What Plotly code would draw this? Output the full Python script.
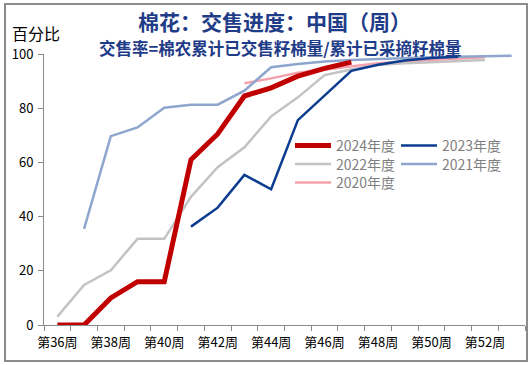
import plotly.graph_objects as go

# ---- data ----
weeks = list(range(36, 54))
tick_weeks = [36, 38, 40, 42, 44, 46, 48, 50, 52]
tick_labels = [f"第{w}周" for w in tick_weeks]

w2024 = [36, 37, 38, 39, 40, 41, 42, 43, 44, 45, 46, 47]
v2024 = [0, 0, 10, 16, 16, 61, 70.5, 84.5, 87.5, 91.8, 94.7, 97]

w2023 = [41, 42, 43, 44, 45, 46, 47, 48, 49, 50, 51]
v2023 = [36.3, 43.3, 55.4, 50.1, 75.6, 84.6, 93.8, 96.0, 97.6, 98.5, 99.0]

w2022 = [36, 37, 38, 39, 40, 41, 42, 43, 44, 45, 46, 47, 48, 49, 50, 51, 52]
v2022 = [3.1, 14.8, 20.2, 31.8, 31.8, 47.3, 58.2, 65.6, 77.0, 84.0, 92.2, 94.3, 95.9, 96.6, 97.0, 97.4, 97.8]

w2021 = [37, 38, 39, 40, 41, 42, 43, 44, 45, 46, 47, 48, 49, 50, 51, 52, 53]
v2021 = [35.5, 69.7, 72.9, 80.2, 81.3, 81.3, 86.5, 95.1, 96.3, 97.2, 97.8, 98.2, 98.5, 98.8, 99.0, 99.3, 99.4]

w2020 = [43, 44, 45, 46, 47, 48, 49, 50, 51, 52]
v2020 = [89.2, 91.0, 93.1, 94.3, 95.6, 96.6, 97.2, 97.8, 98.2, 98.8]

title_text = "棉花：交售进度：中国（周）"
subtitle_text = "交售率=棉农累计已交售籽棉量/累计已采摘籽棉量"
yunit_text = "百分比"

# ---- geometry helpers (pixel -> paper) ----
W, H = 532, 365
L, R, T, B = 44, 7, 54, 40
PW, PH = W - L - R, H - T - B


def px(x):
    return (x - L) / PW


def py(y):
    return (H - B - y) / PH


FONT = "Noto Sans CJK SC"

fig = go.Figure()
fig.add_trace(go.Scatter(x=w2020, y=v2020, mode="lines", name="2020年度",
                         line=dict(color="#F4A3AE", width=2.5), legend="legend5"))
fig.add_trace(go.Scatter(x=w2021, y=v2021, mode="lines", name="2021年度",
                         line=dict(color="#8EA6CD", width=2.5), legend="legend4"))
fig.add_trace(go.Scatter(x=w2022, y=v2022, mode="lines", name="2022年度",
                         line=dict(color="#C3C3C3", width=2.5), legend="legend3"))
fig.add_trace(go.Scatter(x=w2023, y=v2023, mode="lines", name="2023年度",
                         line=dict(color="#0B3C8F", width=2.5), legend="legend2"))
fig.add_trace(go.Scatter(x=w2024, y=v2024, mode="lines", name="2024年度",
                         line=dict(color="#C00000", width=5), legend="legend"))

leg_common = dict(orientation="h", xanchor="left", yanchor="middle",
                  font=dict(family=FONT, size=14, color="#7F7F7F"),
                  bgcolor="rgba(0,0,0,0)", itemwidth=36)
c1, c2 = px(290), px(396)
fig.update_layout(
    legend=dict(x=c1, y=py(146), **leg_common),
    legend2=dict(x=c2, y=py(146), **leg_common),
    legend3=dict(x=c1, y=py(164.5), **leg_common),
    legend4=dict(x=c2, y=py(164.5), **leg_common),
    legend5=dict(x=c1, y=py(183), **leg_common),
)

fig.update_layout(
    width=W, height=H,
    margin=dict(l=L, r=R, t=T, b=B),
    paper_bgcolor="white", plot_bgcolor="white",
    showlegend=True,
    font=dict(family=FONT, color="#000000"),
    xaxis=dict(
        range=[35.5, 53.5], tickmode="array", tickvals=tick_weeks, ticktext=tick_labels,
        ticks="", showgrid=False, zeroline=False, ticklabelstandoff=5,
        showline=True, linecolor="#8A8A8A", linewidth=1,
        tickfont=dict(family=FONT, size=13, color="#000000"),
        minor=dict(tick0=35.5, dtick=1, ticks="outside", ticklen=5,
                   tickcolor="#8A8A8A", tickwidth=1, showgrid=False),
        fixedrange=True,
    ),
    yaxis=dict(
        range=[0, 100], tickmode="array", tickvals=[0, 20, 40, 60, 80, 100],
        ticks="outside", ticklen=5, tickcolor="#8A8A8A", showgrid=False, zeroline=False,
        showline=True, linecolor="#8A8A8A", linewidth=1, ticklabelstandoff=2,
        tickfont=dict(family=FONT, size=13, color="#000000"),
        fixedrange=True,
    ),
)

fig.add_annotation(text=f"<b>{title_text}</b>", x=px(274), y=py(21), xref="paper", yref="paper",
                   showarrow=False, xanchor="center", yanchor="middle", borderpad=0,
                   font=dict(family=FONT, size=21, color="#1F3C88"))
fig.add_annotation(text=f"<b>{subtitle_text}</b>", x=px(280), y=py(47.5), xref="paper", yref="paper",
                   showarrow=False, xanchor="center", yanchor="middle", borderpad=0,
                   font=dict(family=FONT, size=16.5, color="#1F3C88"))
fig.add_annotation(text=yunit_text, x=px(11), y=py(33), xref="paper", yref="paper",
                   showarrow=False, xanchor="left", yanchor="middle", borderpad=0,
                   font=dict(family=FONT, size=16, color="#000000"))

# outer chart frame
fig.add_shape(type="rect", xref="paper", yref="paper",
              x0=px(5), x1=px(527), y0=py(361), y1=py(4),
              line=dict(color="#8C8C8C", width=2), fillcolor="rgba(0,0,0,0)", layer="below")

fig.write_html("out.html", config={"displayModeBar": False},
               post_script="document.body.style.margin='0';")
